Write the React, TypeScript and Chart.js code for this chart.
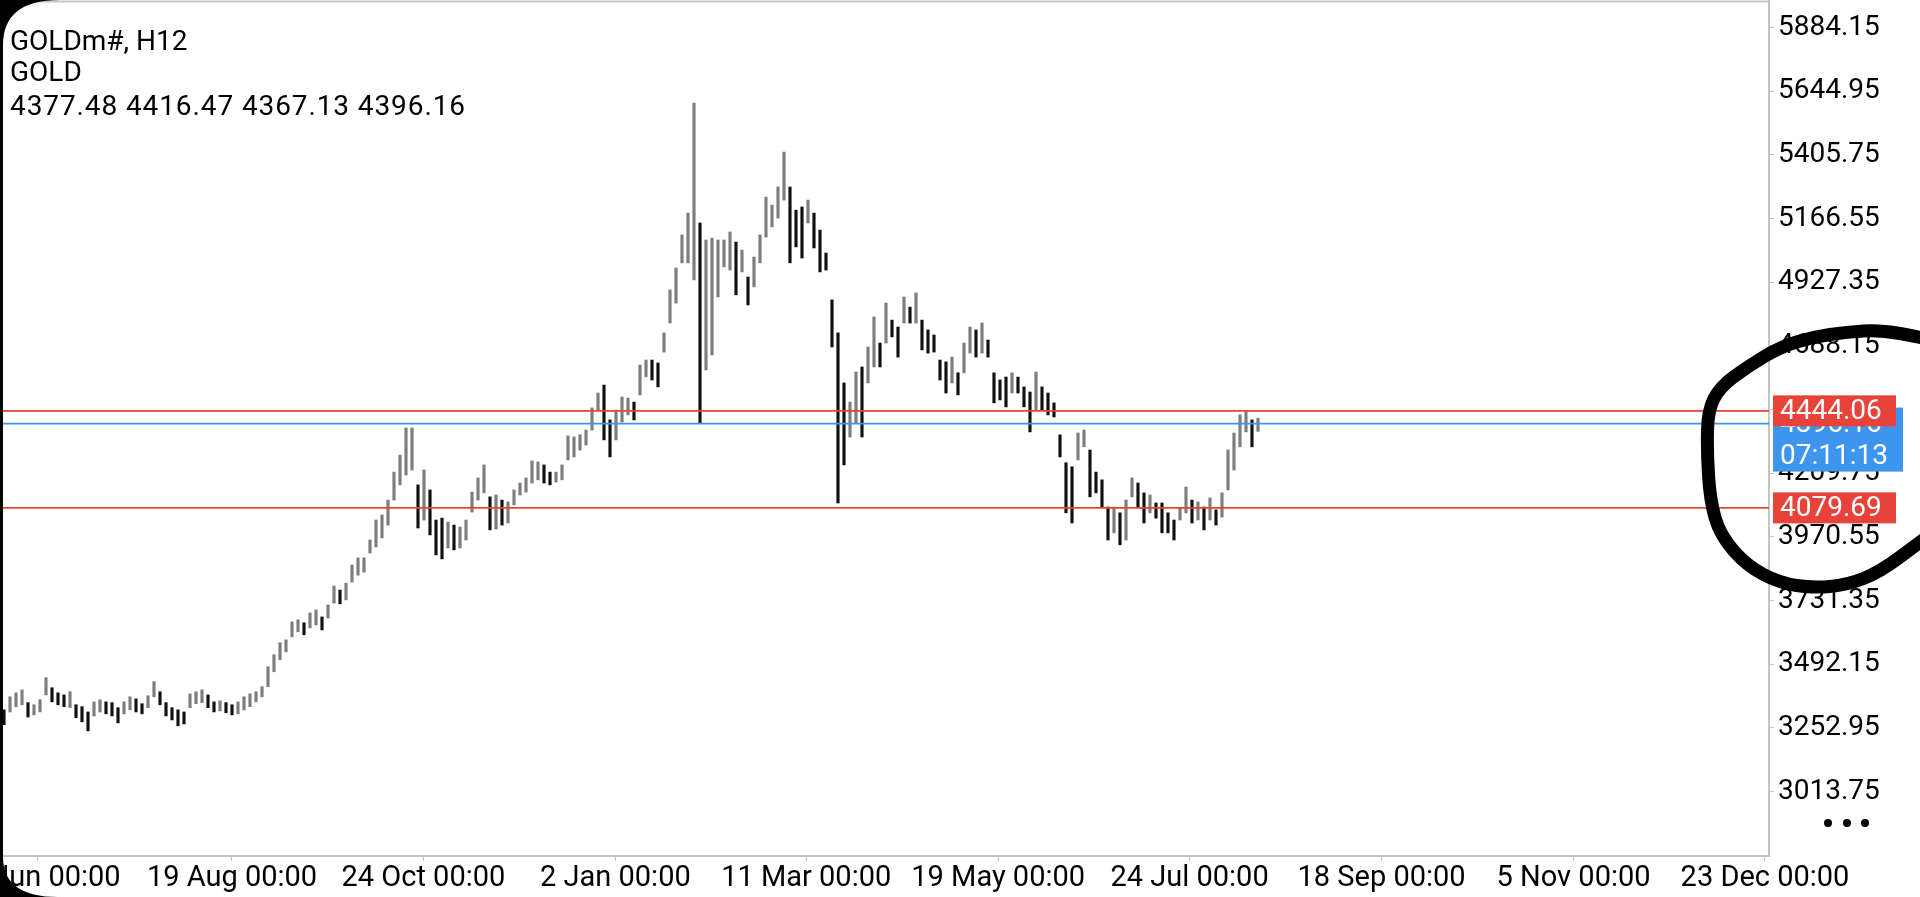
import React, { useEffect, useRef } from 'react';
import { Chart, registerables } from 'chart.js';

Chart.register(...registerables);

// ---- data (H12 bars, each entry ~1.5 trading days) ----
const barHighs: number[] = [
  3321, 3370, 3385, 3396, 3348, 3340, 3359, 3442, 3404, 3385,
  3377, 3389, 3340, 3333, 3313, 3351, 3359, 3351, 3348, 3329,
  3351, 3370, 3362, 3344, 3374, 3427, 3389, 3348, 3329, 3321,
  3313, 3381, 3389, 3396, 3377, 3351, 3355, 3348, 3340, 3351,
  3370, 3381, 3389, 3408, 3483, 3528, 3573, 3584, 3651, 3659,
  3648, 3685, 3696, 3670, 3715, 3786, 3771, 3797, 3865, 3892,
  3892, 3959, 4034, 4053, 4109, 4214, 4278, 4380, 4380, 4166,
  4222, 4147, 4034, 4041, 4026, 4015, 4008, 4034, 4139, 4192,
  4241, 4121, 4128, 4109, 4102, 4147, 4173, 4192, 4256, 4252,
  4241, 4214, 4214, 4241, 4350, 4346, 4354, 4372, 4455, 4511,
  4541, 4410, 4447, 4496, 4492, 4477, 4616, 4635, 4635, 4624,
  4737, 4898, 4981, 5105, 5187, 5600, 5150, 5086, 5093, 5086,
  5086, 5116, 5078, 5048, 4947, 5022, 5105, 5247, 5217, 5285,
  5416, 5285, 5198, 5210, 5236, 5187, 5123, 5037, 4861, 4737,
  4549, 4477, 4590, 4609, 4684, 4797, 4699, 4849, 4785, 4759,
  4872, 4834, 4887, 4785, 4748, 4729, 4635, 4628, 4646, 4587,
  4699, 4759, 4748, 4774, 4710, 4587, 4560, 4571, 4587, 4571,
  4534, 4515, 4590, 4534, 4511, 4474, 4354, 4249, 4234, 4361,
  4372, 4297, 4214, 4185, 4083, 4083, 4061, 4109, 4192, 4173,
  4136, 4128, 4098, 4098, 4061, 4034, 4079, 4158, 4109, 4102,
  4083, 4117, 4072, 4136, 4297, 4361, 4429, 4444, 4410, 4416.47,
];

const barLows: number[] = [
  3265, 3313, 3333, 3340, 3294, 3302, 3313, 3377, 3351, 3340,
  3333, 3329, 3291, 3276, 3242, 3298, 3313, 3306, 3298, 3272,
  3306, 3321, 3313, 3306, 3329, 3370, 3340, 3298, 3283, 3261,
  3268, 3329, 3344, 3348, 3329, 3313, 3317, 3310, 3302, 3306,
  3321, 3333, 3351, 3370, 3408, 3464, 3509, 3539, 3595, 3614,
  3603, 3629, 3640, 3621, 3666, 3722, 3719, 3734, 3801, 3827,
  3838, 3910, 3933, 3967, 4015, 4109, 4166, 4203, 4222, 4004,
  4034, 3978, 3903, 3888, 3929, 3922, 3929, 3959, 4064, 4109,
  4136, 3997, 4000, 4015, 4023, 4091, 4128, 4139, 4173, 4185,
  4173, 4166, 4177, 4185, 4260, 4271, 4297, 4316, 4372, 4447,
  4335, 4271, 4335, 4402, 4429, 4410, 4504, 4572, 4560, 4534,
  4665, 4774, 4849, 5000, 5000, 4936, 4399, 4598, 4654, 4872,
  4985, 4973, 4880, 4966, 4842, 4910, 5000, 5097, 5135, 5168,
  5236, 5000, 5060, 5018, 5150, 5056, 4966, 4973, 4684, 4098,
  4241, 4346, 4399, 4346, 4549, 4609, 4609, 4699, 4722, 4646,
  4774, 4774, 4774, 4673, 4661, 4665, 4560, 4511, 4549, 4504,
  4587, 4661, 4646, 4661, 4646, 4474, 4485, 4459, 4511, 4511,
  4459, 4365, 4447, 4447, 4429, 4421, 4271, 4061, 4023, 4260,
  4309, 4121, 4136, 4083, 3959, 3986, 3941, 3959, 4121, 4083,
  4023, 4061, 4041, 3986, 3986, 3959, 4034, 4061, 4023, 4034,
  3997, 4034, 4015, 4045, 4147, 4222, 4309, 4365, 4309, 4367.13,
];

const xTickLabels: string[] = [
  '13 Jun 00:00', '19 Aug 00:00', '24 Oct 00:00', '2 Jan 00:00', '11 Mar 00:00',
  '19 May 00:00', '24 Jul 00:00', '18 Sep 00:00', '5 Nov 00:00', '23 Dec 00:00',
];
// bar-index position of each time label (future labels extend past the last bar)
const xTickIndex: number[] = [5.5, 38.0, 69.9, 101.9, 133.7, 165.7, 197.6, 229.6, 261.6, 293.5];

const yTickValues: number[] = [
  3013.75, 3252.95, 3492.15, 3731.35, 3970.55, 4209.75, 4448.95,
  4688.15, 4927.35, 5166.55, 5405.75, 5644.95, 5884.15,
];

const resistanceLevel = 4444.06;
const supportLevel = 4079.69;
const bidLevel = 4396.16;
const timerText = '07:11:13';
const headerLines: string[] = ['GOLDm#, H12', 'GOLD', '4377.48 4416.47 4367.13 4396.16'];

const X_MIN = -0.667;
const X_MAX = 294.17;
const Y_MIN = 2771.9;
const Y_MAX = 5983.7;

const RED = '#e8433a';
const BLUE = '#3d95ee';
const AXIS_GREY = '#c4c4c4';
const FONT = 'Roboto';

const overlayPlugin = {
  id: 'mtOverlay',
  afterDraw(chart: any) {
    const ctx: CanvasRenderingContext2D = chart.ctx;
    const y = chart.scales.y;
    const area = chart.chartArea;
    ctx.save();

    // top frame line
    ctx.strokeStyle = AXIS_GREY;
    ctx.lineWidth = 2;
    ctx.beginPath();
    ctx.moveTo(0, area.top + 0.5);
    ctx.lineTo(area.right, area.top + 0.5);
    ctx.stroke();

    // header text
    ctx.fillStyle = '#000';
    ctx.font = `28px ${FONT}`;
    ctx.textAlign = 'left';
    ctx.textBaseline = 'alphabetic';
    const baselines = [49.5, 80.5, 115];
    headerLines.forEach((t, i) => {
      (ctx as any).letterSpacing = i === 2 ? '0.9px' : '0px';
      ctx.fillText(t, 10, baselines[i]);
    });
    (ctx as any).letterSpacing = '0px';

    const boxLeft = area.right + 4;
    ctx.font = `28px ${FONT}`;
    ctx.textBaseline = 'middle';

    // bid box (blue) with timer
    const by = y.getPixelForValue(bidLevel);
    ctx.fillStyle = BLUE;
    ctx.fillRect(boxLeft, by - 16, 130, 64);
    ctx.fillStyle = '#fff';
    ctx.fillText(bidLevel.toFixed(2), boxLeft + 7, by + 1);
    ctx.fillText(timerText, boxLeft + 7, by + 33);

    // level boxes (red)
    [resistanceLevel, supportLevel].forEach((v) => {
      const py = y.getPixelForValue(v);
      ctx.fillStyle = RED;
      ctx.fillRect(boxLeft, py - 15.5, 123, 31);
      ctx.fillStyle = '#fff';
      ctx.fillText(v.toFixed(2), boxLeft + 7, py + 1);
    });

    // three-dot menu
    ctx.fillStyle = '#000';
    [1828, 1847, 1865].forEach((cx) => {
      ctx.beginPath();
      ctx.arc(cx, 823, 4, 0, Math.PI * 2);
      ctx.fill();
    });

    // hand-drawn black circle annotation
    const pts: [number, number][] = [
      [1940, 342], [1920, 337], [1880, 330], [1847, 332], [1813, 337], [1780, 347],
      [1747, 367], [1720, 387], [1708, 410], [1707, 450], [1710, 500], [1720, 535],
      [1747, 566], [1780, 583], [1813, 588], [1847, 585], [1880, 572], [1920, 542], [1940, 527],
    ];
    ctx.strokeStyle = '#000';
    ctx.lineWidth = 13;
    ctx.lineJoin = 'round';
    ctx.lineCap = 'round';
    ctx.beginPath();
    ctx.moveTo(pts[0][0], pts[0][1]);
    for (let i = 1; i < pts.length - 1; i++) {
      const mx = (pts[i][0] + pts[i + 1][0]) / 2;
      const my = (pts[i][1] + pts[i + 1][1]) / 2;
      ctx.quadraticCurveTo(pts[i][0], pts[i][1], mx, my);
    }
    ctx.lineTo(pts[pts.length - 1][0], pts[pts.length - 1][1]);
    ctx.stroke();

    // phone bezel corners on the left
    ctx.fillStyle = '#000';
    ctx.fillRect(0, 0, 3, chart.height);
    ctx.beginPath();
    ctx.moveTo(0, 0);
    ctx.lineTo(60, 0);
    ctx.quadraticCurveTo(3, 0, 3, 45);
    ctx.lineTo(0, 45);
    ctx.closePath();
    ctx.fill();
    ctx.beginPath();
    ctx.moveTo(0, chart.height);
    ctx.lineTo(58, chart.height);
    ctx.quadraticCurveTo(3, chart.height, 3, chart.height - 40);
    ctx.lineTo(0, chart.height - 40);
    ctx.closePath();
    ctx.fill();

    ctx.restore();
  },
};

export default function App() {
  const canvasRef = useRef<HTMLCanvasElement | null>(null);

  useEffect(() => {
    const canvas = canvasRef.current;
    if (!canvas) return;

    const barData = barHighs.map((h, i) => ({ x: i, y: [barLows[i], h] }));
    const barColors = barHighs.map((h, i) => {
      if (i === 0) return '#111';
      const mid = (h + barLows[i]) / 2;
      const prev = (barHighs[i - 1] + barLows[i - 1]) / 2;
      return mid >= prev ? '#7d7d7d' : '#111';
    });
    const levelLine = (v: number, color: string) => ({
      type: 'line' as const,
      data: [{ x: X_MIN, y: v }, { x: X_MAX, y: v }],
      borderColor: color,
      borderWidth: 1.6,
      pointRadius: 0,
      order: 0,
    });

    const chart = new Chart(canvas, {
      type: 'bar',
      data: {
        datasets: [
          levelLine(resistanceLevel, RED) as any,
          levelLine(supportLevel, RED) as any,
          levelLine(bidLevel, BLUE) as any,
          {
            type: 'bar',
            data: barData as any,
            backgroundColor: barColors,
            borderWidth: 0,
            barThickness: 2.5,
            order: 1,
          },
        ],
      },
      options: {
        animation: false,
        responsive: false,
        devicePixelRatio: 1,
        layout: { padding: { top: 1, left: 0, right: 0, bottom: 0 } },
        plugins: { legend: { display: false }, tooltip: { enabled: false } },
        scales: {
          x: {
            type: 'linear',
            position: 'bottom',
            min: X_MIN,
            max: X_MAX,
            offset: false,
            grid: { offset: false, drawOnChartArea: false, drawTicks: true, tickLength: 5, color: AXIS_GREY },
            border: { display: true, color: AXIS_GREY, width: 2 },
            ticks: {
              autoSkip: false,
              maxRotation: 0,
              minRotation: 0,
              padding: 0,
              color: '#000',
              font: { family: FONT, size: 29 },
              callback: (_v: any, idx: number) => xTickLabels[idx],
            },
            afterBuildTicks: (s: any) => {
              s.ticks = xTickIndex.map((v) => ({ value: v }));
            },
            afterFit: (s: any) => {
              s.height = 41;
              s.paddingLeft = 0;
              s.paddingRight = 0;
            },
          },
          y: {
            type: 'linear',
            position: 'right',
            min: Y_MIN,
            max: Y_MAX,
            grid: { drawOnChartArea: false, drawTicks: true, tickLength: 5, color: AXIS_GREY },
            border: { display: true, color: AXIS_GREY, width: 2 },
            ticks: {
              padding: 4,
              color: '#000',
              font: { family: FONT, size: 28 },
              callback: (v: any) => Number(v).toFixed(2),
            },
            afterBuildTicks: (s: any) => {
              s.ticks = yTickValues.map((v) => ({ value: v }));
            },
            afterFit: (s: any) => {
              s.width = 151;
              s.paddingTop = 0;
              s.paddingBottom = 0;
            },
          },
        },
      } as any,
      plugins: [overlayPlugin],
    });

    return () => chart.destroy();
  }, []);

  return (
    <div style={{ position: 'fixed', left: 0, top: 0, width: 1920, height: 897, background: '#fff' }}>
      <canvas ref={canvasRef} width={1920} height={897} style={{ display: 'block' }} />
    </div>
  );
}
